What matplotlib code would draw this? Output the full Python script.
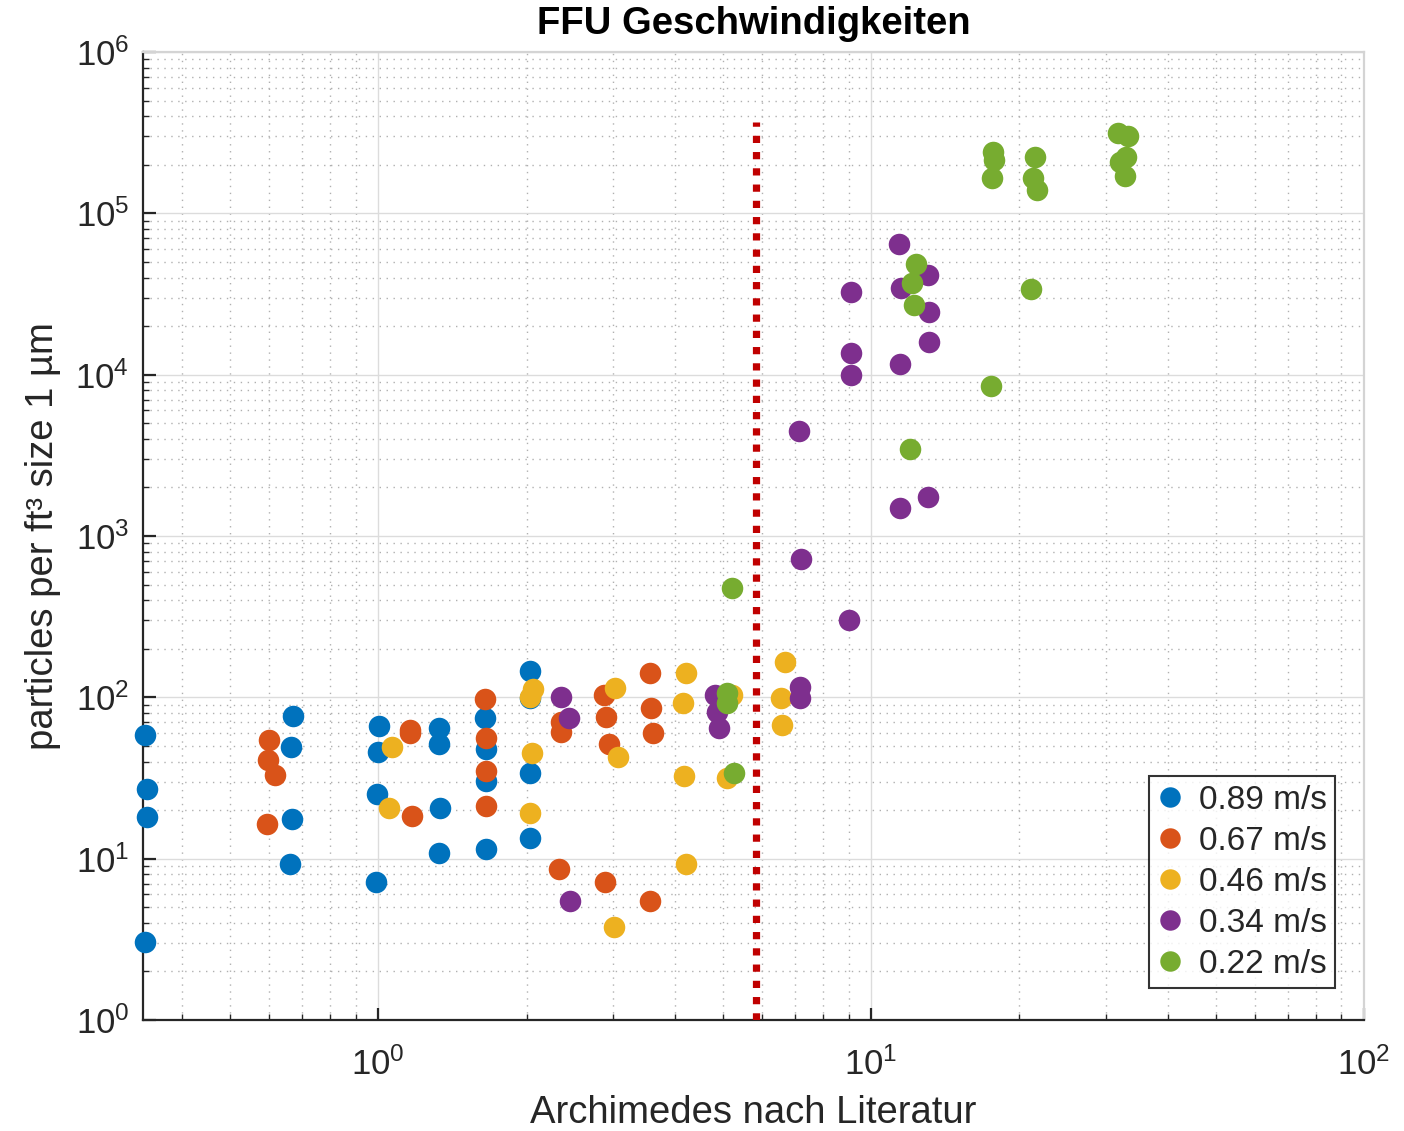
import matplotlib
matplotlib.use("Agg")
import matplotlib.pyplot as plt
from matplotlib.ticker import LogLocator, NullFormatter, FixedLocator

plt.rcParams['font.family'] = ['Liberation Sans', 'DejaVu Sans']
plt.rcParams['mathtext.fontset'] = 'custom'
plt.rcParams['mathtext.rm'] = 'Liberation Sans'
plt.rcParams['mathtext.it'] = 'Liberation Sans:italic'
plt.rcParams['mathtext.bf'] = 'Liberation Sans:bold'

# ---------------- data ----------------
labels = ["0.89 m/s", "0.67 m/s", "0.46 m/s", "0.34 m/s", "0.22 m/s"]
colors = ["#0072BD", "#D95319", "#EDB120", "#7E2F8E", "#77AC30"]

x_089 = [0.336, 0.340, 0.340, 0.336, 0.672, 0.666, 0.669, 0.663,
         1.005, 1.000, 0.995, 0.991, 1.330, 1.330, 1.336, 1.330,
         1.649, 1.657, 1.657, 1.657, 2.035, 2.035, 2.035, 2.035]
y_089 = [58.7, 27.2, 18.0, 3.03, 77.0, 49.5, 17.5, 9.21,
         66.8, 46.1, 25.3, 7.12, 64.9, 51.7, 20.5, 10.9,
         74.8, 47.5, 30.5, 11.4, 146.3, 99.6, 34.2, 13.5]

x_067 = [0.601, 0.598, 0.618, 0.595, 1.161, 1.161, 1.172,
         1.649, 1.657, 1.657, 1.657, 2.353, 2.353, 2.331,
         2.876, 2.904, 2.944, 2.890, 3.567, 3.584, 3.617, 3.567]
y_067 = [54.7, 41.1, 33.2, 16.5, 63.1, 60.4, 18.5,
         98.2, 56.3, 34.7, 21.3, 70.7, 61.3, 8.57,
         103.9, 75.9, 51.7, 7.12, 142.2, 86.4, 60.4, 5.43]

x_046 = [1.068, 1.053, 2.064, 2.035, 2.054, 2.035, 3.028, 3.071, 3.014,
         4.221, 4.163, 4.182, 4.221, 5.233, 5.112, 6.674, 6.580, 6.611]
y_046 = [49.5, 20.7, 113.2, 101.0, 45.5, 19.1, 114.8, 42.9, 3.75,
         142.2, 92.7, 32.7, 9.21, 103.9, 31.4, 166.4, 99.6, 67.8]

x_034 = [2.353, 2.442, 2.454, 4.834, 4.879, 4.924, 7.159, 7.159, 7.193, 7.126,
         9.000, 9.087, 9.087, 9.087, 11.37, 11.48, 13.02, 13.09, 13.09, 11.43,
         11.43, 13.02]
y_034 = [101.0, 74.8, 5.43, 103.9, 81.5, 64.9, 116.5, 99.6, 722.5, 4481,
         302.8, 9957, 13630, 32520, 64480, 34430, 41430, 24450, 15940, 11650,
         1495, 1749]

x_022 = [5.233, 5.112, 5.112, 5.282, 12.31, 12.08, 12.20, 11.97,
         17.48, 17.65, 17.73, 17.57, 21.48, 21.28, 21.68, 21.08,
         31.66, 33.18, 32.87, 31.96, 32.72]
y_022 = [477.9, 106.9, 92.7, 34.2, 48480, 36980, 27020, 3466,
         8511, 239300, 213500, 165100, 222800, 165100, 139200, 33940,
         313800, 300600, 222800, 207500, 170000]

series_x = [x_089, x_067, x_046, x_034, x_022]
series_y = [y_089, y_067, y_046, y_034, y_022]

threshold_x = [5.83, 5.83]
threshold_y = [1.0, 3.67e5]

xlim = (1/3, 100)
ylim = (1, 1e6)
x_major = [1, 10, 100]
y_major = [1, 10, 100, 1e3, 1e4, 1e5, 1e6]

# ---------------- figure ----------------
fig = plt.figure(figsize=(14.04, 11.31), dpi=100)
ax = fig.add_axes([143/1404, 1 - 1020/1131, (1364-143)/1404, (1020-52)/1131])
ax.set_xscale('log')
ax.set_yscale('log')

for xs, ys, c, lab in zip(series_x, series_y, colors, labels):
    ax.plot(xs, ys, 'o', color=c, ms=15.5, mec='none', label=lab, zorder=3,
            clip_on=False)

ax.plot(threshold_x, threshold_y, color='#C00000', lw=5.2,
        linestyle=(0, (1.0, 1.25)), dash_capstyle='butt', zorder=4)

ax.xaxis.set_major_locator(FixedLocator(x_major))
ax.yaxis.set_major_locator(FixedLocator(y_major))
ax.xaxis.set_minor_locator(LogLocator(base=10, subs=range(2, 10), numticks=100))
ax.yaxis.set_minor_locator(LogLocator(base=10, subs=range(2, 10), numticks=100))
ax.xaxis.set_minor_formatter(NullFormatter())
ax.yaxis.set_minor_formatter(NullFormatter())
ax.set_xlim(*xlim)
ax.set_ylim(*ylim)

ax.grid(True, which='major', color='#dcdcdc', lw=1.0, ls='-', zorder=0)
ax.grid(True, which='minor', color='#b0b0b0', lw=1.0, ls=(0, (1, 4)), zorder=0)
ax.set_axisbelow(True)

for s in ['left', 'bottom']:
    ax.spines[s].set_color('#262626')
    ax.spines[s].set_linewidth(1.6)
for s in ['top', 'right']:
    ax.spines[s].set_color('#d4d4d4')
    ax.spines[s].set_linewidth(1.6)

ax.tick_params(which='both', direction='in', colors='#262626', top=False, right=False)
ax.tick_params(which='major', length=9, width=1.6, labelsize=25)
ax.tick_params(which='minor', length=4.5, width=1.0)
ax.tick_params(axis='x', which='major', pad=20)
ax.tick_params(axis='y', which='major', pad=10)

ax.set_xlabel('Archimedes nach Literatur', fontsize=27.5, color='#262626', labelpad=9)
ax.set_ylabel('particles per ft³ size 1 µm', fontsize=27.5, color='#262626', labelpad=10)
ax.set_title('FFU Geschwindigkeiten', fontsize=27.5, fontweight='bold', color='black', pad=13)

leg = ax.legend(loc='lower right', bbox_to_anchor=(1 - 29/1221, 32/968), borderaxespad=0,
                fontsize=24, frameon=True, fancybox=False, edgecolor='black',
                handlelength=0.8, handletextpad=0.45, labelspacing=0.3, borderpad=0.25,
                markerscale=0.95)
leg.get_frame().set_linewidth(1.5)
for t in leg.get_texts():
    t.set_color('#262626')

fig.savefig('out.png', dpi=100, facecolor='white')
